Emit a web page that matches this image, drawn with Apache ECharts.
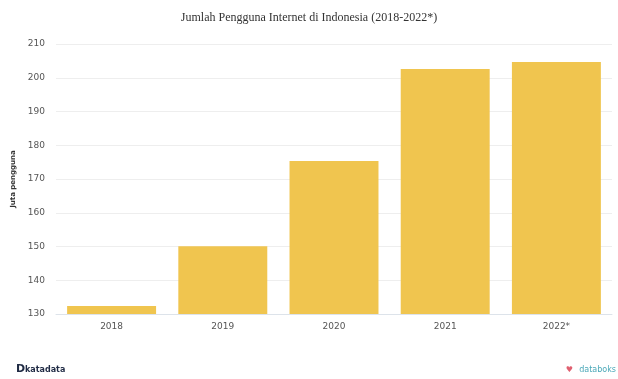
<!DOCTYPE html>
<html>
<head>
<meta charset="UTF-8">
<title>Jumlah Pengguna Internet di Indonesia</title>
<script src="https://cdn.jsdelivr.net/npm/echarts@6/dist/echarts.min.js"></script>
<style>
  html, body { margin: 0; padding: 0; background: #fff; }
</style>
</head>
<body>
<div id="main" style="width:618px;height:379px;"></div>
<script type="text/javascript">
  // data
  var years = ['2018', '2019', '2020', '2021', '2022*'];
  var users = [132.4, 150.1, 175.3, 202.6, 204.7];
  var yTicks = { min: 130, max: 210, step: 10 };

  var myChart = echarts.init(document.getElementById('main'));
  var option = {
    backgroundColor: '#fff',
    title: {
      text: 'Jumlah Pengguna Internet di Indonesia (2018-2022*)',
      left: 'center',
      top: 7,
      textStyle: {
        fontFamily: 'Liberation Serif',
        fontWeight: 'normal',
        fontSize: 12,
        color: '#333'
      }
    },
    grid: { left: 56, right: 6, top: 44, bottom: 65 },
    xAxis: {
      type: 'category',
      data: years,
      axisLine: { lineStyle: { color: '#dde3ea' } },
      axisTick: { show: false },
      axisLabel: { color: '#555', fontSize: 9, margin: 8, fontFamily: 'DejaVu Sans' }
    },
    yAxis: {
      type: 'value',
      min: yTicks.min,
      max: yTicks.max,
      interval: yTicks.step,
      name: 'Juta pengguna',
      nameLocation: 'middle',
      nameGap: 38,
      nameTextStyle: { fontSize: 7, fontWeight: 'bold', color: '#333', fontFamily: 'DejaVu Sans' },
      axisLabel: { color: '#555', fontSize: 9, margin: 11, fontFamily: 'DejaVu Sans' },
      splitLine: { lineStyle: { color: '#eeeeee' } }
    },
    series: [{
      type: 'bar',
      data: users,
      barCategoryGap: '20%',
      itemStyle: { color: '#f0c54f' }
    }],
    graphic: [
      {
        type: 'text', left: 16, top: 364,
        style: { text: 'D', font: 'bold 11px "DejaVu Sans"', fill: '#1f2a44' }
      },
      {
        type: 'text', left: 25, top: 366,
        style: { text: 'katadata', font: 'bold 8px "DejaVu Sans"', fill: '#1f2a44' }
      },
      {
        type: 'text', right: 2, top: 366,
        style: { text: 'databoks', font: '8px "DejaVu Sans"', fill: '#4aa8b8' }
      },
      {
        type: 'text', right: 45, top: 366,
        style: { text: '\u2665', font: '8px "DejaVu Sans"', fill: '#e06070' }
      }
    ]
  };
  myChart.setOption(option);
</script>
</body>
</html>
